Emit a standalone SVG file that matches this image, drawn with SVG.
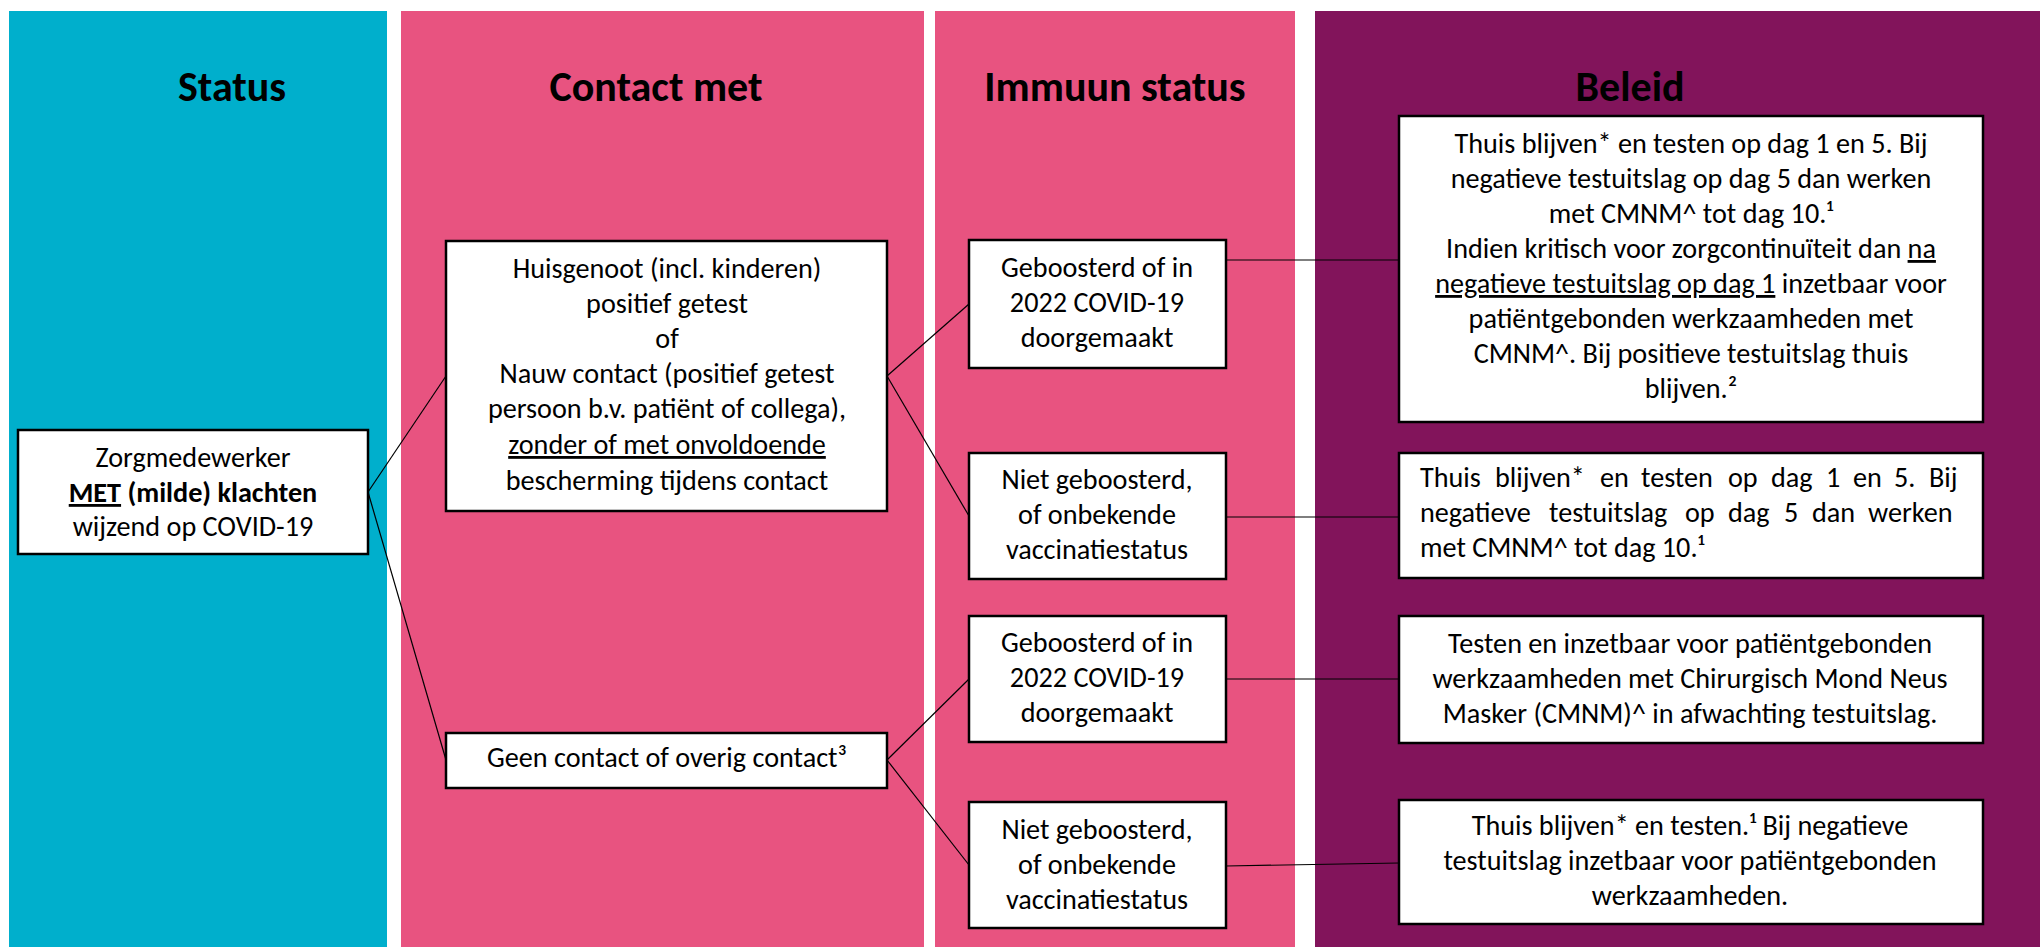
<svg xmlns="http://www.w3.org/2000/svg" width="2040" height="947" viewBox="0 0 2040 947">
<style>
.box{fill:#ffffff;stroke:#000000;stroke-width:2.5}
.t{font-family:Carlito,Lato,"Liberation Sans",sans-serif;font-size:28.2px;fill:#000000;text-anchor:middle}
.l{text-anchor:start}
.title{font-family:Carlito,Lato,"Liberation Sans",sans-serif;font-size:42px;font-weight:bold;fill:#000000;text-anchor:middle}
.u{text-decoration:underline}
.b{font-weight:bold}
.conn line{stroke:#000000;stroke-width:1.2}
</style>
<rect x="9" y="11" width="378" height="936" fill="#00AFCC"/>
<rect x="401" y="11" width="523" height="936" fill="#E85380"/>
<rect x="935" y="11" width="360" height="936" fill="#E85380"/>
<rect x="1315" y="11" width="725" height="936" fill="#82145B"/>
<text class="title" x="232" y="101">Status</text>
<text class="title" x="656" y="101">Contact met</text>
<text class="title" x="1115" y="101">Immuun status</text>
<text class="title" x="1630" y="101">Beleid</text>
<g class="conn" id="connectors">
<line x1="368" y1="492" x2="446" y2="376"/>
<line x1="368" y1="492" x2="446" y2="760"/>
<line x1="887" y1="376" x2="969" y2="304"/>
<line x1="887" y1="376" x2="969" y2="516"/>
<line x1="887" y1="760" x2="969" y2="679"/>
<line x1="887" y1="760" x2="969" y2="865"/>
<line x1="1226" y1="260" x2="1399" y2="260"/>
<line x1="1226" y1="517" x2="1399" y2="517"/>
<line x1="1226" y1="679" x2="1399" y2="679"/>
<line x1="1226" y1="866" x2="1399" y2="863"/>
</g>
<g id="status">
<rect class="box" x="18" y="430" width="350" height="124"/>
<text class="t" x="193" y="467">Zorgmedewerker</text>
<text class="t" x="193" y="502"><tspan class="b u">MET</tspan><tspan class="b"> (milde) klachten</tspan></text>
<text class="t" x="193" y="536">wijzend op COVID-19</text>
</g>
<g id="contact-huisgenoot">
<rect class="box" x="446" y="241" width="441" height="270"/>
<text class="t" x="667" y="278">Huisgenoot (incl. kinderen)</text>
<text class="t" x="667" y="313">positief getest</text>
<text class="t" x="667" y="348">of</text>
<text class="t" x="667" y="383">Nauw contact (positief getest</text>
<text class="t" x="667" y="418">persoon b.v. patiënt of collega),</text>
<text class="t" x="667" y="454"><tspan class="u">zonder of met onvoldoende</tspan></text>
<text class="t" x="667" y="490">bescherming tijdens contact</text>
</g>
<g id="contact-geen">
<rect class="box" x="446" y="733" width="441" height="55"/>
<text class="t" x="667" y="767">Geen contact of overig contact³</text>
</g>
<g id="immuun-1">
<rect class="box" x="969" y="240" width="257" height="128"/>
<text class="t" x="1097" y="277">Geboosterd of in</text>
<text class="t" x="1097" y="312">2022 COVID-19</text>
<text class="t" x="1097" y="347">doorgemaakt</text>
</g>
<g id="immuun-2">
<rect class="box" x="969" y="453" width="257" height="126"/>
<text class="t" x="1097" y="489">Niet geboosterd,</text>
<text class="t" x="1097" y="524">of onbekende</text>
<text class="t" x="1097" y="559">vaccinatiestatus</text>
</g>
<g id="immuun-3">
<rect class="box" x="969" y="616" width="257" height="126"/>
<text class="t" x="1097" y="652">Geboosterd of in</text>
<text class="t" x="1097" y="687">2022 COVID-19</text>
<text class="t" x="1097" y="722">doorgemaakt</text>
</g>
<g id="immuun-4">
<rect class="box" x="969" y="802" width="257" height="126"/>
<text class="t" x="1097" y="839">Niet geboosterd,</text>
<text class="t" x="1097" y="874">of onbekende</text>
<text class="t" x="1097" y="909">vaccinatiestatus</text>
</g>
<g id="beleid-1">
<rect class="box" x="1399" y="116" width="584" height="306"/>
<text class="t" x="1691" y="153">Thuis blijven* en testen op dag 1 en 5. Bij</text>
<text class="t" x="1691" y="188">negatieve testuitslag op dag 5 dan werken</text>
<text class="t" x="1691" y="223">met CMNM^ tot dag 10.¹</text>
<text class="t" x="1691" y="258">Indien kritisch voor zorgcontinuïteit dan <tspan class="u">na</tspan></text>
<text class="t" x="1691" y="293"><tspan class="u">negatieve testuitslag op dag 1</tspan> inzetbaar voor</text>
<text class="t" x="1691" y="328">patiëntgebonden werkzaamheden met</text>
<text class="t" x="1691" y="363">CMNM^. Bij positieve testuitslag thuis</text>
<text class="t" x="1691" y="398">blijven.²</text>
</g>
<g id="beleid-2">
<rect class="box" x="1399" y="453" width="584" height="125"/>
<text class="t l" y="487"><tspan x="1420">Thuis</tspan><tspan x="1495">blijven*</tspan><tspan x="1600">en</tspan><tspan x="1641">testen</tspan><tspan x="1728">op</tspan><tspan x="1771">dag</tspan><tspan x="1826">1</tspan><tspan x="1853">en</tspan><tspan x="1894">5.</tspan><tspan x="1929">Bij</tspan></text>
<text class="t l" y="522"><tspan x="1420">negatieve</tspan><tspan x="1549">testuitslag</tspan><tspan x="1685">op</tspan><tspan x="1728">dag</tspan><tspan x="1784">5</tspan><tspan x="1812">dan</tspan><tspan x="1868">werken</tspan></text>
<text class="t l" x="1420" y="557">met CMNM^ tot dag 10.¹</text>
</g>
<g id="beleid-3">
<rect class="box" x="1399" y="616" width="584" height="127"/>
<text class="t" x="1690" y="653">Testen en inzetbaar voor patiëntgebonden</text>
<text class="t" x="1690" y="688">werkzaamheden met Chirurgisch Mond Neus</text>
<text class="t" x="1690" y="723">Masker (CMNM)^ in afwachting testuitslag.</text>
</g>
<g id="beleid-4">
<rect class="box" x="1399" y="800" width="584" height="124"/>
<text class="t" x="1690" y="835">Thuis blijven* en testen.¹ Bij negatieve</text>
<text class="t" x="1690" y="870">testuitslag inzetbaar voor patiëntgebonden</text>
<text class="t" x="1690" y="905">werkzaamheden.</text>
</g>
</svg>
